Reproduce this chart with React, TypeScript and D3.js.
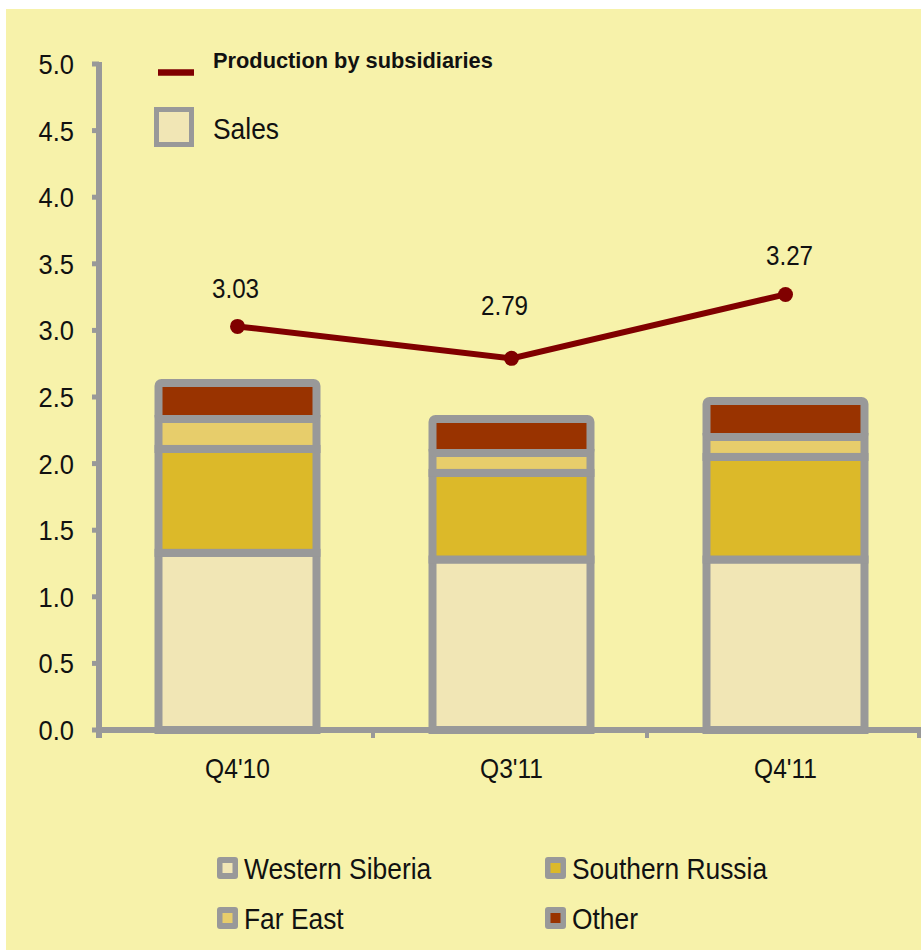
import React from "react";
import * as d3 from "d3";

// chart values
const quarters = ["Q4'10", "Q3'11", "Q4'11"];
const westernSiberia = [1.33, 1.28, 1.28];
const southernRussia = [0.78, 0.65, 0.77];
const farEast = [0.225, 0.15, 0.15];
const other = [0.27, 0.255, 0.27];
const production = [3.03, 2.79, 3.27];
const yTicks = [0, 0.5, 1, 1.5, 2, 2.5, 3, 3.5, 4, 4.5, 5];

const seriesNames = ["Western Siberia", "Southern Russia", "Far East", "Other"];
const seriesColors = ["#f1e6b5", "#dcb929", "#e7cd6b", "#993300"];
// label nudges for the point labels (middle one sits higher in the original)
const labelLift = [38, 53, 39];
const labelShift = [-2, -7, 4];

const W = 921;
const H = 950;
const margin = { left: 99, right: 0, top: 64, bottom: 220 };
const GRAY = "#999999";
const LINE = "#800000";
const FONT = "'Liberation Sans', Arial, sans-serif";

// narrow text: the original uses a condensed face, so squeeze a regular one
const CondText = ({ x, y, size, anchor = "start", sx = 0.91, children }: any) => (
  <text
    transform={`translate(${x},${y}) scale(${sx},1)`}
    fontFamily={FONT}
    fontSize={size}
    textAnchor={anchor}
    fill="#111"
  >
    {children}
  </text>
);

export default function App() {
  const x = d3
    .scaleBand<string>()
    .domain(quarters)
    .range([margin.left, W - margin.right])
    .padding(0);
  const y = d3.scaleLinear().domain([0, 5]).range([H - margin.bottom, margin.top]);
  const y0 = y(0);

  const rows = quarters.map((q, i) => ({
    q,
    values: [westernSiberia[i], southernRussia[i], farEast[i], other[i]],
  }));
  const stack = d3.stack<any>().keys([0, 1, 2, 3] as any).value((d: any, k: any) => d.values[k]);
  const layers = stack(rows as any);

  const barW = 158;
  const cx = (q: string) => (x(q) as number) + x.bandwidth() / 2 + 1.5;
  const barX = (q: string) => cx(q) - barW / 2;

  const line = d3
    .line<number>()
    .x((_, i) => cx(quarters[i]))
    .y((d) => y(d));

  const boundaries = [margin.left, ...quarters.map((q) => (x(q) as number) + x.bandwidth())];

  return (
    <div style={{ position: "absolute", left: 0, top: 0 }}>
      <svg width={W} height={H} style={{ display: "block" }}>
        <rect x={0} y={0} width={W} height={H} fill="#ffffff" />
        <rect x={6} y={9} width={W - 6} height={H - 9} fill="#f7f2aa" />

        {/* stacked bars */}
        {layers.map((layer, k) =>
          layer.map((seg: any, i: number) => (
            <rect
              key={`${k}-${i}`}
              x={barX(quarters[i])}
              y={y(seg[1])}
              width={barW}
              height={y(seg[0]) - y(seg[1])}
              fill={seriesColors[k]}
              stroke={GRAY}
              strokeWidth={8}
              rx={k === 3 ? 3 : 0}
            />
          ))
        )}

        {/* y axis */}
        <line x1={margin.left} x2={margin.left} y1={y(5) - 2} y2={y0 + 8} stroke={GRAY} strokeWidth={6} />
        {yTicks.map((t) => (
          <g key={t}>
            <line x1={92} x2={margin.left} y1={y(t)} y2={y(t)} stroke={GRAY} strokeWidth={5} />
            <CondText x={74} y={y(t) + 10} size={28} anchor="end">
              {d3.format(".1f")(t)}
            </CondText>
          </g>
        ))}

        {/* x axis */}
        <line x1={margin.left - 3} x2={W} y1={y0} y2={y0} stroke={GRAY} strokeWidth={6} />
        {boundaries.map((b, i) => (
          <line key={i} x1={Math.min(b, W - 2)} x2={Math.min(b, W - 2)} y1={y0} y2={y0 + 8} stroke={GRAY} strokeWidth={4} />
        ))}
        {quarters.map((q) => (
          <CondText key={q} x={cx(q)} y={778} size={27} anchor="middle">
            {q}
          </CondText>
        ))}

        {/* production line */}
        <path d={line(production) as string} fill="none" stroke={LINE} strokeWidth={6} />
        {production.map((v, i) => (
          <g key={i}>
            <circle cx={cx(quarters[i])} cy={y(v)} r={7.5} fill={LINE} />
            <CondText x={cx(quarters[i]) + labelShift[i]} y={y(v) - labelLift[i] + 10} size={27.5} anchor="middle" sx={0.88}>
              {v.toFixed(2)}
            </CondText>
          </g>
        ))}

        {/* top legend */}
        <line x1={158} x2={194} y1={72.5} y2={72.5} stroke={LINE} strokeWidth={6.5} />
        <text x={213} y={68} fontFamily={FONT} fontWeight="bold" fontSize={21.8} fill="#111">
          Production by subsidiaries
        </text>
        <rect x={156.5} y={109.5} width={35} height={35} fill={seriesColors[0]} stroke={GRAY} strokeWidth={5} />
        <CondText x={213} y={139} size={29}>
          Sales
        </CondText>

        {/* bottom legend */}
        {seriesNames.map((name, k) => {
          const col = k % 2;
          const row = Math.floor(k / 2);
          const lx = col === 0 ? 217 : 545;
          const ly = row === 0 ? 857 : 907;
          return (
            <g key={name}>
              <rect x={lx} y={ly} width={21} height={22} rx={3} fill={GRAY} />
              <rect x={lx + 5.5} y={ly + 6} width={10} height={10} fill={seriesColors[k]} />
              <CondText x={lx + 27} y={ly + 22} size={29}>
                {name}
              </CondText>
            </g>
          );
        })}
      </svg>
    </div>
  );
}
